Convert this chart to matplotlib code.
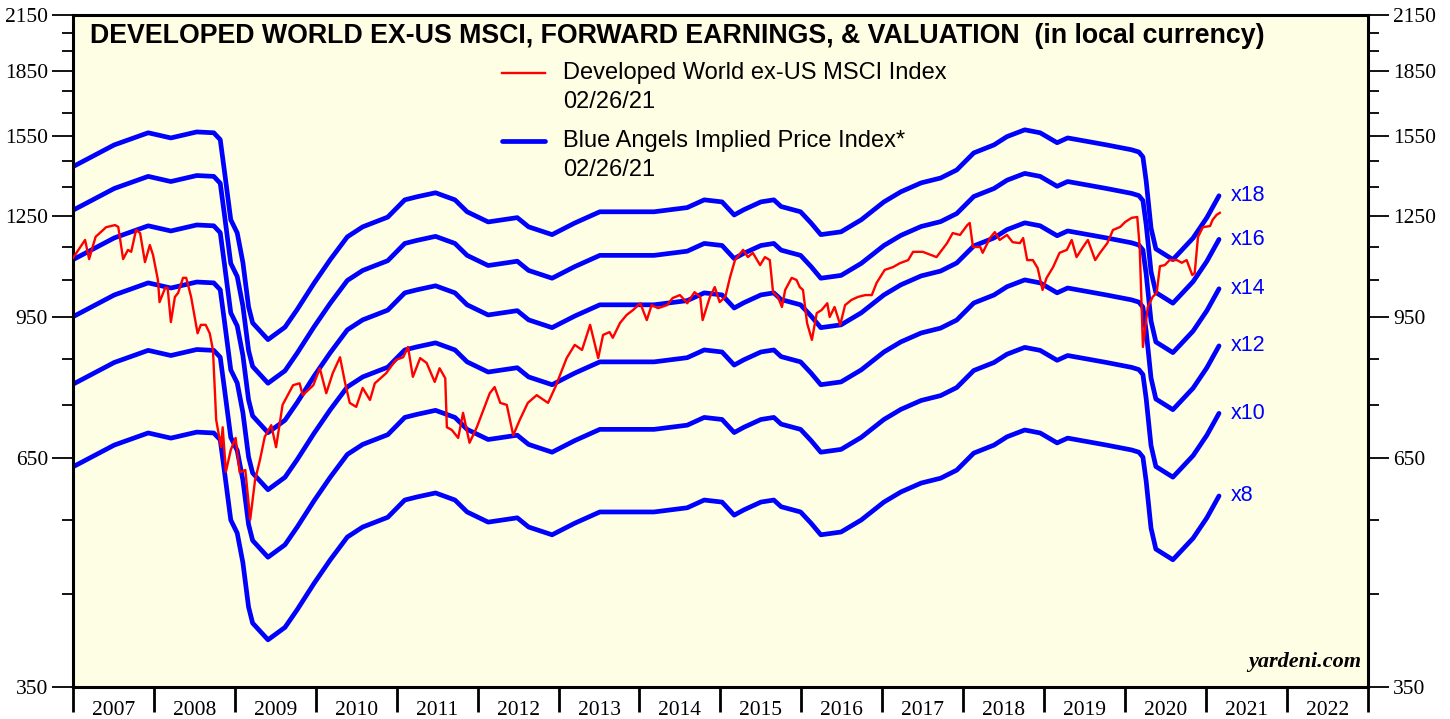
import matplotlib.pyplot as plt
import numpy as np
from matplotlib.ticker import FixedLocator, NullFormatter

# forward earnings (local currency)
fe_t = [2007.00, 2007.51, 2007.93, 2008.21, 2008.53, 2008.74, 2008.82, 2008.87, 2008.95,
        2009.03, 2009.10, 2009.17, 2009.22, 2009.41, 2009.62, 2009.77, 2009.98, 2010.18,
        2010.39, 2010.58, 2010.89, 2011.10, 2011.25, 2011.48, 2011.72, 2011.87, 2012.13,
        2012.49, 2012.63, 2012.92, 2013.20, 2013.51, 2014.18, 2014.59, 2014.80, 2015.02,
        2015.17, 2015.29, 2015.50, 2015.66, 2015.75, 2015.99, 2016.12, 2016.24, 2016.49,
        2016.74, 2017.02, 2017.23, 2017.48, 2017.72, 2017.92, 2018.13, 2018.38, 2018.54,
        2018.76, 2018.95, 2019.16, 2019.29, 2019.56, 2019.77, 2020.08, 2020.17, 2020.22,
        2020.26, 2020.32, 2020.38, 2020.59, 2020.68, 2020.84, 2021.01, 2021.16]
fe_v = [79.3, 84.1, 86.9, 85.7, 87.1, 86.9, 85.3, 78.6, 68.7,
        66.3, 61.2, 54.3, 52.0, 49.7, 51.4, 53.9, 57.9, 61.7,
        65.6, 67.4, 69.2, 72.5, 73.1, 73.9, 72.5, 70.2, 68.3,
        69.1, 67.4, 66.0, 68.1, 70.2, 70.2, 71.0, 72.5, 72.1,
        69.6, 70.6, 72.1, 72.5, 71.2, 70.2, 68.1, 66.0, 66.5,
        68.7, 72.1, 74.1, 75.9, 76.9, 78.6, 82.3, 84.1, 86.0,
        87.6, 86.9, 84.6, 85.7, 84.8, 84.1, 83.0, 82.5, 81.4,
        76.3, 67.2, 63.5, 61.7, 63.0, 65.4, 69.1, 73.3]

multiples = [8, 10, 12, 14, 16, 18]

# MSCI Developed World ex-US index
idx_t = [2007.00, 2007.15, 2007.20, 2007.28, 2007.41, 2007.52, 2007.56, 2007.62, 2007.68,
         2007.72, 2007.78, 2007.83, 2007.89, 2007.95, 2007.99, 2008.05, 2008.07, 2008.14,
         2008.17, 2008.21, 2008.26, 2008.30, 2008.36, 2008.40, 2008.46, 2008.54, 2008.58,
         2008.64, 2008.69, 2008.73, 2008.77, 2008.83, 2008.85, 2008.89, 2008.95, 2009.01,
         2009.06, 2009.13, 2009.19, 2009.25, 2009.31, 2009.37, 2009.45, 2009.51, 2009.59,
         2009.72, 2009.80, 2009.84, 2009.97, 2010.05, 2010.13, 2010.21, 2010.30, 2010.36,
         2010.42, 2010.50, 2010.58, 2010.67, 2010.73, 2010.87, 2010.99, 2011.08, 2011.14,
         2011.20, 2011.29, 2011.37, 2011.47, 2011.53, 2011.60, 2011.62, 2011.68, 2011.76,
         2011.82, 2011.90, 2011.99, 2012.15, 2012.21, 2012.28, 2012.36, 2012.44, 2012.52,
         2012.62, 2012.73, 2012.87, 2012.96, 2013.10, 2013.20, 2013.29, 2013.39, 2013.49,
         2013.55, 2013.63, 2013.67, 2013.76, 2013.84, 2013.92, 2014.01, 2014.09, 2014.15,
         2014.23, 2014.34, 2014.41, 2014.50, 2014.59, 2014.68, 2014.75, 2014.78, 2014.87,
         2014.93, 2014.99, 2015.06, 2015.12, 2015.18, 2015.28, 2015.34, 2015.40, 2015.49,
         2015.55, 2015.61, 2015.65, 2015.71, 2015.76, 2015.80, 2015.88, 2015.94, 2015.98,
         2016.02, 2016.07, 2016.13, 2016.19, 2016.25, 2016.32, 2016.35, 2016.41, 2016.48,
         2016.54, 2016.62, 2016.70, 2016.79, 2016.87, 2016.93, 2017.03, 2017.13, 2017.22,
         2017.32, 2017.38, 2017.50, 2017.67, 2017.80, 2017.87, 2017.96, 2018.05, 2018.08,
         2018.12, 2018.21, 2018.24, 2018.33, 2018.39, 2018.45, 2018.54, 2018.61, 2018.70,
         2018.74, 2018.79, 2018.86, 2018.92, 2018.98, 2019.03, 2019.11, 2019.19, 2019.28,
         2019.34, 2019.40, 2019.48, 2019.54, 2019.63, 2019.69, 2019.78, 2019.85, 2019.94,
         2020.00, 2020.08, 2020.15, 2020.18, 2020.22, 2020.28, 2020.34, 2020.39, 2020.43,
         2020.49, 2020.55, 2020.64, 2020.70, 2020.76, 2020.83, 2020.86, 2020.90, 2020.96,
         2021.05, 2021.08, 2021.13, 2021.17]
idx_v = [1115, 1171, 1112, 1181, 1212, 1219, 1213, 1112, 1140,
         1134, 1203, 1193, 1103, 1155, 1124, 1051, 990, 1029,
         1029, 938, 1004, 1015, 1057, 1057, 1004, 910, 931,
         931, 910, 870, 720, 669, 706, 626, 664, 686,
         625, 629, 550, 612, 646, 688, 710, 669, 750,
         791, 795, 770, 791, 828, 774, 817, 853, 798,
         754, 746, 785, 760, 795, 817, 847, 853, 877,
         809, 851, 840, 798, 828, 806, 706, 701, 686,
         734, 677, 706, 774, 787, 754, 750, 691, 720,
         754, 770, 754, 787, 851, 882, 870, 931, 851,
         906, 913, 899, 936, 956, 969, 987, 943, 982,
         974, 982, 1001, 1009, 987, 1017, 1004, 943, 1004,
         1031, 990, 1004, 1060, 1109, 1140, 1118, 1131, 1094,
         1118, 1109, 1017, 1004, 977, 1023, 1057, 1051, 1031,
         1023, 936, 894, 961, 969, 987, 951, 977, 931,
         982, 996, 1004, 1009, 1009, 1043, 1080, 1088, 1100,
         1109, 1134, 1134, 1118, 1161, 1193, 1187, 1219, 1226,
         1149, 1149, 1131, 1177, 1196, 1171, 1187, 1164, 1161,
         1177, 1109, 1109, 1085, 1023, 1057, 1088, 1131, 1140,
         1171, 1118, 1149, 1171, 1109, 1131, 1161, 1203, 1213,
         1229, 1243, 1246, 1149, 877, 977, 1004, 1015, 1091,
         1094, 1109, 1109, 1101, 1109, 1065, 1071, 1180, 1212,
         1216, 1236, 1253, 1260]

years = list(range(2007, 2023))
yticks = [350, 650, 950, 1250, 1550, 1850, 2150]
yminor = [450, 550, 750, 850, 1050, 1150, 1350, 1450, 1650, 1750, 1950, 2050]

fig = plt.figure(figsize=(14.5, 7.19), dpi=100)
ax = fig.add_axes([0.0503, 0.0445, 0.8931, 0.9346])
ax.set_facecolor('#fefee4')

fe = np.array(fe_v)
for m in multiples:
    ax.plot(fe_t, fe * m, color='#0000ff', lw=3.4, solid_capstyle='round', zorder=2)
    ax.text(fe_t[-1] + 0.15, fe[-1] * m, 'x%d' % m, color='#0000ff', fontsize=15.5,
            family='Liberation Sans', va='center', ha='left')

ax.plot(idx_t, idx_v, color='#ff0000', lw=1.7, zorder=3)

ax.set_yscale('log')
ax.set_ylim(350, 2150)
ax.set_xlim(2007, 2023)
ax.yaxis.set_major_locator(FixedLocator(yticks))
ax.yaxis.set_minor_locator(FixedLocator(yminor))
ax.set_yticklabels([str(t) for t in yticks])
ax.yaxis.set_minor_formatter(NullFormatter())

ax.set_xticks(years + [2023])
ax.set_xticklabels([])
ax.set_xticks([y + 0.5 for y in years], minor=True)
ax.set_xticklabels([str(y) for y in years], minor=True)

for s in ax.spines.values():
    s.set_linewidth(2.2)

ax.tick_params(axis='y', which='major', direction='out', length=15, width=1.3,
               left=True, right=True, labelleft=True, labelright=True, labelsize=15.5, pad=3)
ax.tick_params(axis='y', which='minor', direction='out', length=8, width=1.3,
               left=True, right=True)
ax.tick_params(axis='x', which='major', direction='out', length=18, width=2.0)
ax.tick_params(axis='x', which='minor', length=0, labelsize=15.5, pad=10)
for lab in ax.get_xticklabels(minor=True):
    lab.set_family('Liberation Serif')
for lab in ax.yaxis.get_ticklabels(which='major'):
    lab.set_family('Liberation Serif')

ax.text(0.0131, 0.969, 'DEVELOPED WORLD EX-US MSCI, FORWARD EARNINGS, & VALUATION  (in local currency)',
        transform=ax.transAxes, fontsize=19.3, fontweight='bold', family='Liberation Sans',
        va='center', ha='left')

# legend drawn by hand
ax.plot([0.3312, 0.3645], [0.9137, 0.9137], transform=ax.transAxes, color='#ff0000', lw=1.7)
ax.plot([0.3312, 0.3645], [0.8125, 0.8125], transform=ax.transAxes, color='#0000ff', lw=3.4,
        solid_capstyle='round')
ax.text(0.3788, 0.9137, 'Developed World ex-US MSCI Index', transform=ax.transAxes,
        fontsize=17, family='Liberation Sans', va='center')
ax.text(0.3788, 0.870, '02/26/21', transform=ax.transAxes,
        fontsize=17, family='Liberation Sans', va='center')
ax.text(0.3788, 0.8125, 'Blue Angels Implied Price Index*', transform=ax.transAxes,
        fontsize=17, family='Liberation Sans', va='center')
ax.text(0.3788, 0.769, '02/26/21', transform=ax.transAxes,
        fontsize=17, family='Liberation Sans', va='center')

ax.text(0.9946, 0.022, 'yardeni.com', transform=ax.transAxes, fontsize=16,
        fontweight='bold', fontstyle='italic', family='Liberation Serif', ha='right', va='bottom')

fig.savefig('out.png', dpi=100, facecolor='white')
